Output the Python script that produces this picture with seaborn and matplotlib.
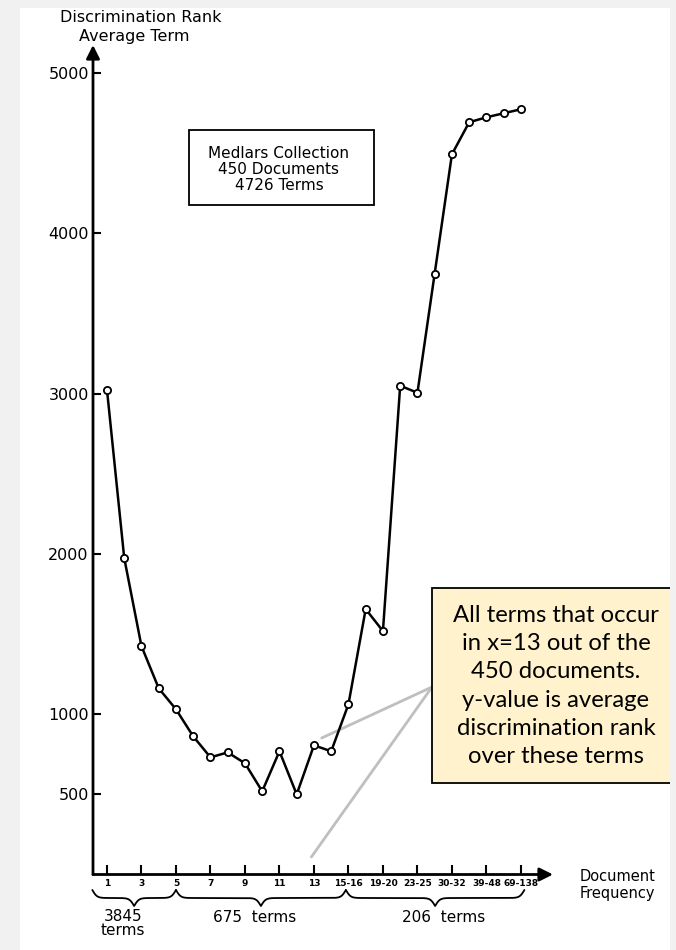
import numpy as np
import pandas as pd
import matplotlib
matplotlib.use("Agg")
import matplotlib.pyplot as plt
from matplotlib.patches import Rectangle
import seaborn as sns

# Document-frequency classes (one plotted point per class) and the
# average discrimination rank of the terms in each class
freq_classes = ["1", "2", "3", "4", "5", "6", "7", "8", "9", "10", "11", "12", "13",
                "14", "15-16", "17-18", "19-20", "21-22", "23-25", "26-29", "30-32",
                "33-38", "39-48", "49-68", "69-138"]
avg_rank = [3025, 1975, 1425, 1162, 1031, 862, 731, 762, 694, 519, 769, 500, 806,
            769, 1062, 1656, 1519, 3050, 3006, 3750, 4494, 4694, 4725, 4750, 4775]

tick_labels = ["1", "3", "5", "7", "9", "11", "13", "15-16", "19-20", "23-25",
               "30-32", "39-48", "69-138"]
y_ticks = [500, 1000, 2000, 3000, 4000, 5000]
group_labels = ["3845\nterms", "675  terms", "206  terms"]

W, H = 676, 950
BG = "#f1f1f1"


def fx(px):
    return px / W


def fy(py):
    return 1 - py / H


sns.set_theme(style="white")
plt.rcParams["font.family"] = ["DejaVu Sans"]
plt.rcParams["text.color"] = "black"
plt.rcParams["xtick.color"] = "black"
plt.rcParams["ytick.color"] = "black"

fig = plt.figure(figsize=(W / 100, H / 100), dpi=100, facecolor=BG)

# white page
fig.patches.append(Rectangle((fx(20), 0), fx(670) - fx(20), fy(8),
                             transform=fig.transFigure, facecolor="white",
                             edgecolor="none", zorder=-2))

ax = fig.add_axes([fx(93), fy(874.5), fx(553) - fx(93), (874.5 - 45) / H])
ax.set_facecolor("none")
PX_X = 17.25          # pixels per class step
PX_Y = 0.16025        # pixels per rank unit
ax.set_xlim(-0.81, 25.86)
ax.set_ylim(0, 5176)
for s in ax.spines.values():
    s.set_visible(False)

df = pd.DataFrame({"pos": np.arange(len(freq_classes)), "cls": freq_classes,
                   "rank": avg_rank})
sns.lineplot(data=df, x="pos", y="rank", ax=ax, color="black", lw=1.8,
             marker="o", markersize=5.2, markerfacecolor="white",
             markeredgecolor="black", markeredgewidth=1.3, zorder=4)
ax.set_xlabel("")
ax.set_ylabel("")

# axes drawn as arrows
arrow = dict(arrowstyle="-|>", lw=2, color="black", shrinkA=0, shrinkB=0,
             mutation_scale=20)
ax.annotate("", xy=(0, 1), xytext=(0, 0), xycoords="axes fraction", arrowprops=arrow)
ax.annotate("", xy=(1, 0), xytext=(0, 0), xycoords="axes fraction", arrowprops=arrow)

ax.set_yticks(y_ticks)
ax.set_yticklabels([str(v) for v in y_ticks])
ax.tick_params(axis="y", direction="in", length=6, width=1.5, pad=3,
               labelsize=11.5, colors="black", left=True)
ax.set_xticks(np.arange(0, len(freq_classes), 2))
ax.set_xticklabels(tick_labels)
ax.tick_params(axis="x", direction="in", length=7.5, width=1.5, pad=3,
               labelsize=6.5, colors="black", bottom=True)
for t in ax.get_xticklabels():
    t.set_fontweight("bold")


# curly braces grouping the frequency classes
def brace(x0, x1, y_end, y_tip):
    xm = (x0 + x1) / 2
    hw_px = (xm - x0) * PX_X
    beta = 3 * hw_px / 7
    t = np.linspace(0, 1, 300)
    h = 1 / (1 + np.exp(-beta * t)) + 1 / (1 + np.exp(-beta * (t - 1)))
    h = (h - h[0]) / (h[-1] - h[0])
    left_x = x0 + t * (xm - x0)
    right_x = xm + t[1:] * (x1 - xm)
    xs = np.concatenate([left_x, right_x])
    ys = np.concatenate([h, h[::-1][1:]])
    ys = y_end + (y_tip - y_end) * ys
    ax.plot(xs, ys, color="black", lw=1.3, clip_on=False, solid_capstyle="round")


y_end = -(890 - 874.5) / PX_Y
y_tip = -(906 - 874.5) / PX_Y
for x0, x1 in [(-0.85, 4.0), (4.0, 13.85), (13.85, 24.2)]:
    brace(x0, x1, y_end, y_tip)

# pointer lines from the note box
grey = dict(arrowstyle="-", color="#bfbfbf", lw=2, shrinkA=0, shrinkB=0)
ax.annotate("", xy=(12.45, (874.5 - 738) / PX_Y), xytext=(fx(432), fy(687)),
            textcoords="figure fraction", arrowprops=grey)
ax.annotate("", xy=(11.85, (874.5 - 857) / PX_Y), xytext=(fx(432), fy(687)),
            textcoords="figure fraction", arrowprops=grey)

# axis titles and group labels
fig.text(fx(141), fy(17), "Discrimination Rank", ha="center", va="center", size=11.5)
fig.text(fx(134), fy(36), "Average Term", ha="center", va="center", size=11.5)
fig.text(fx(580), fy(885), "Document\nFrequency", ha="left", va="center",
         size=10.5, linespacing=1.2)
fig.text(fx(123), fy(923.5), group_labels[0], ha="center", va="center",
         size=11, linespacing=0.95)
fig.text(fx(255), fy(917), group_labels[1], ha="center", va="center", size=11)
fig.text(fx(444), fy(917), group_labels[2], ha="center", va="center", size=11)

# collection box
fig.patches.append(Rectangle((fx(189), fy(205)), fx(374) - fx(189), (205 - 130) / H,
                             transform=fig.transFigure, facecolor="white",
                             edgecolor="black", lw=1.3, zorder=1))
fig.text(fx(279), fy(169.5), "Medlars Collection\n450 Documents\n4726 Terms",
         ha="center", va="center", multialignment="center", size=11,
         linespacing=1.1, zorder=2)

# note box
fig.patches.append(Rectangle((fx(432), fy(783)), fx(680) - fx(432), (783 - 588) / H,
                             transform=fig.transFigure, facecolor="#fff2cc",
                             edgecolor="black", lw=1.3, zorder=2))
fig.text(fx(556), fy(686),
         "All terms that occur\nin x=13 out of the\n450 documents.\ny-value is average\ndiscrimination rank\nover these terms",
         ha="center", va="center", multialignment="center", size=17.2,
         family=["Lato", "DejaVu Sans"], linespacing=1.42, zorder=3)

# right margin
fig.patches.append(Rectangle((fx(670), 0), fx(676) - fx(670), 1,
                             transform=fig.transFigure, facecolor=BG,
                             edgecolor="none", zorder=5))

fig.savefig("out.png", dpi=100, facecolor=BG)
